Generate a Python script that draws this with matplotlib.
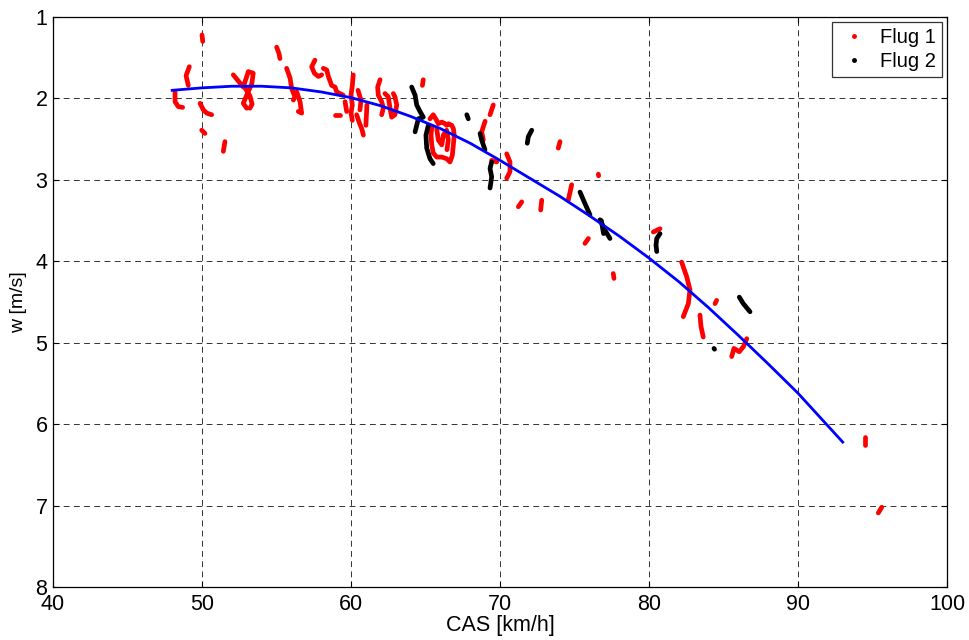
import matplotlib
matplotlib.use("Agg")
import matplotlib.pyplot as plt
from matplotlib.lines import Line2D

plt.rcParams['font.family'] = ['Liberation Sans', 'DejaVu Sans']

# Polar fit: sink rate w [m/s] over calibrated airspeed [km/h]
fit_cas = [48.0, 50.0, 52.0, 54.0, 56.0, 58.0, 60.0, 62.0, 64.0, 66.0,
           68.0, 70.0, 72.0, 74.0, 76.0, 78.0, 80.0, 82.0, 84.0, 86.0,
           88.0, 90.0, 92.0, 93.0]
fit_w = [1.90, 1.87, 1.85, 1.85, 1.87, 1.92, 1.99, 2.09, 2.22, 2.37,
         2.55, 2.76, 2.98, 3.20, 3.44, 3.69, 3.96, 4.25, 4.57, 4.91,
         5.26, 5.62, 6.02, 6.22]

# Measured segments, flight 1 (CAS values, w values)
flug1_segments = [
    ([50.00, 50.05], [1.22, 1.30]),
    ([49.15, 48.93, 49.08], [1.61, 1.72, 1.84]),
    ([48.19, 48.19, 48.41, 48.70], [1.92, 2.04, 2.10, 2.11]),
    ([49.87, 50.09, 50.32, 50.65], [2.06, 2.14, 2.18, 2.20]),
    ([49.98, 50.20], [2.39, 2.43]),
    ([51.54, 51.43], [2.53, 2.65]),
    ([52.10, 52.77, 53.11, 53.44, 53.34, 53.00, 52.77, 53.00],
     [1.71, 1.86, 1.67, 1.69, 1.82, 1.96, 2.06, 2.12]),
    ([52.89, 53.22, 53.36, 53.22], [1.87, 1.97, 2.07, 2.12]),
    ([55.01, 55.17, 55.23], [1.37, 1.45, 1.51]),
    ([55.68, 55.91, 56.02, 56.24, 56.13], [1.63, 1.75, 1.88, 1.98, 2.02]),
    ([56.36, 56.58, 56.69, 56.46], [1.92, 2.04, 2.18, 2.16]),
    ([57.58, 57.36, 57.54, 57.81, 58.03], [1.53, 1.61, 1.69, 1.73, 1.71]),
    ([58.14, 58.37, 58.48, 58.70, 58.93, 59.04, 59.26, 59.48],
     [1.63, 1.65, 1.73, 1.84, 1.86, 1.92, 1.94, 1.96]),
    ([58.93, 59.26], [2.20, 2.20]),
    ([60.15, 60.09, 60.00, 60.09, 60.00, 60.09],
     [1.71, 1.84, 1.96, 2.08, 2.18, 2.27]),
    ([60.38, 60.54, 60.72, 60.83], [2.20, 2.29, 2.37, 2.45]),
    ([60.47, 60.67, 60.60], [1.90, 2.02, 2.14]),
    ([59.60, 59.71], [2.04, 2.16]),
    ([61.07, 61.00], [2.08, 2.33]),
    ([61.95, 61.79, 61.83, 62.06, 62.17, 62.06],
     [1.77, 1.86, 1.96, 2.04, 2.12, 2.20]),
    ([62.28, 62.50, 62.62, 62.73, 62.95, 63.07, 62.95, 62.84],
     [1.94, 1.98, 2.12, 2.23, 2.20, 2.08, 1.98, 1.94]),
    ([64.85, 64.79], [1.77, 1.84]),
    ([65.30, 65.52, 65.75, 65.86, 66.09, 66.31, 66.42, 66.53, 66.76, 66.87,
      66.93, 66.87, 66.80, 66.64, 66.42, 66.09, 65.75, 65.52, 65.42, 65.37,
      65.42],
     [2.25, 2.20, 2.27, 2.31, 2.29, 2.31, 2.33, 2.31, 2.33, 2.37,
      2.45, 2.57, 2.70, 2.78, 2.74, 2.72, 2.72, 2.67, 2.57, 2.45,
      2.35]),
    ([65.75, 65.86, 66.09, 66.20, 66.42, 66.53, 66.44],
     [2.37, 2.51, 2.57, 2.45, 2.39, 2.51, 2.63]),
    ([69.55, 69.33], [2.08, 2.20]),
    ([69.00, 68.77, 68.88], [2.28, 2.41, 2.51]),
    ([69.44, 69.78], [2.76, 2.78]),
    ([70.45, 70.67, 70.67, 70.45], [2.68, 2.78, 2.90, 2.98]),
    ([74.03, 73.91], [2.53, 2.61]),
    ([71.46, 71.23], [3.27, 3.33]),
    ([72.80, 72.73], [3.25, 3.37]),
    ([74.81, 74.58], [3.06, 3.25]),
    ([76.60, 76.62], [2.93, 2.95]),
    ([75.93, 75.70], [3.72, 3.78]),
    ([77.60, 77.65], [4.15, 4.21]),
    ([80.29, 80.74], [3.64, 3.60]),
    ([82.19, 82.53, 82.75, 82.64, 82.30], [4.01, 4.19, 4.35, 4.52, 4.68]),
    ([84.54, 84.43], [4.48, 4.52]),
    ([83.42, 83.49, 83.64], [4.66, 4.80, 4.93]),
    ([85.55, 85.70, 86.06, 86.33, 86.56], [5.17, 5.07, 5.11, 5.05, 4.95]),
    ([94.50, 94.50], [6.16, 6.26]),
    ([95.39, 95.62], [7.09, 7.02]),
]

# Measured segments, flight 2
flug2_segments = [
    ([64.07, 64.30, 64.41, 64.63, 64.85, 64.52, 64.41, 64.30],
     [1.86, 1.96, 2.08, 2.16, 2.23, 2.25, 2.33, 2.41]),
    ([65.19, 65.03, 65.08, 65.30, 65.52], [2.33, 2.45, 2.61, 2.74, 2.80]),
    ([67.77, 67.87], [2.20, 2.25]),
    ([68.66, 68.77, 68.88, 68.99], [2.43, 2.51, 2.57, 2.63]),
    ([69.44, 69.33, 69.44, 69.38, 69.33], [2.78, 2.86, 2.96, 3.04, 3.10]),
    ([72.13, 71.90, 71.83], [2.39, 2.47, 2.55]),
    ([75.37, 75.70, 76.04], [3.15, 3.29, 3.43]),
    ([76.71, 77.05, 77.38], [3.49, 3.62, 3.72]),
    ([76.80, 76.95], [3.50, 3.66]),
    ([80.74, 80.52, 80.47, 80.52], [3.66, 3.72, 3.80, 3.88]),
    ([86.06, 86.33, 86.78], [4.44, 4.52, 4.62]),
    ([84.36, 84.40], [5.07, 5.08]),
]

x_ticks = [40, 50, 60, 70, 80, 90, 100]
y_ticks = [1, 2, 3, 4, 5, 6, 7, 8]

fig = plt.figure(figsize=(9.69, 6.40), dpi=100)
ax = fig.add_axes([0.0547, 0.0828, 0.9226, 0.8906])

for xs, ws in flug1_segments:
    ax.plot(xs, ws, color='#ff0000', lw=3.4, solid_capstyle='round',
            solid_joinstyle='round', zorder=2)
for xs, ws in flug2_segments:
    ax.plot(xs, ws, color='black', lw=3.4, solid_capstyle='round',
            solid_joinstyle='round', zorder=2)

ax.plot(fit_cas, fit_w, color='#0000ff', lw=2.0, zorder=3)

ax.set_xlim(x_ticks[0], x_ticks[-1])
ax.set_ylim(y_ticks[-1], y_ticks[0])
ax.set_xticks(x_ticks)
ax.set_yticks(y_ticks)
ax.tick_params(direction='in', length=4, labelsize=15.5, top=True, right=True,
               width=0.8)
ax.tick_params(axis='x', pad=5)
ax.tick_params(axis='y', pad=4)
ax.grid(True, color='0.2', linestyle=(0, (6, 4.5)), linewidth=0.7)
ax.set_axisbelow(True)
for s in ax.spines.values():
    s.set_linewidth(0.9)

ax.set_xlabel('CAS [km/h]', fontsize=15.5, labelpad=0)
ax.set_ylabel('w [m/s]', fontsize=14, labelpad=6)

handles = [
    Line2D([], [], color='#ff0000', marker='.', linestyle='none', markersize=5),
    Line2D([], [], color='black', marker='.', linestyle='none', markersize=5),
]
leg = ax.legend(handles, ['Flug 1', 'Flug 2'], loc='upper right', fontsize=14.5,
                frameon=True, fancybox=False, edgecolor='black',
                borderaxespad=0.25, handletextpad=0.5, handlelength=1.6,
                borderpad=0.3, labelspacing=0.25)
leg.get_frame().set_linewidth(0.9)

fig.savefig('out.png', dpi=100)
